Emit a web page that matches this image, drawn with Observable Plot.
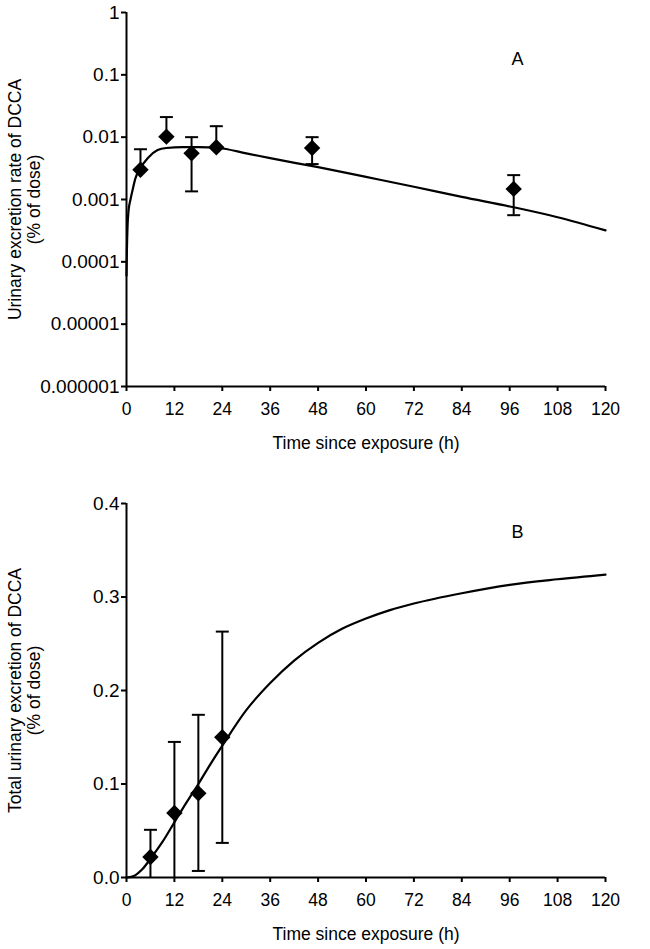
<!DOCTYPE html>
<html>
<head>
<meta charset="utf-8">
<script src="https://cdn.jsdelivr.net/npm/d3@7"></script>
<script src="https://cdn.jsdelivr.net/npm/@observablehq/plot@0.6"></script>
<style>
  html, body { margin: 0; padding: 0; background: #fff; }
  #chart { width: 650px; }
  #chart svg { display: block; }
</style>
</head>
<body>
<div id="chart"></div>
<script>
// ---------- data ----------
const xTicks = [0, 12, 24, 36, 48, 60, 72, 84, 96, 108, 120];
const xTickLabels = ["0", "12", "24", "36", "48", "60", "72", "84", "96", "108", "120"];
const xTitle = "Time since exposure (h)";

// Panel A (log scale)
const yTicksA = [1, 0.1, 0.01, 0.001, 0.0001, 0.00001, 0.000001];
const yTickLabelsA = ["1", "0.1", "0.01", "0.001", "0.0001", "0.00001", "0.000001"];
const yTitleA = "Urinary excretion rate of DCCA\n(% of dose)";
const panelA = "A";

const rateTime = [3.5, 10, 16.3, 22.5, 46.5, 97];
const rateMean = [0.0030, 0.0102, 0.0055, 0.0069, 0.0067, 0.00148];
const rateHigh = [0.0064, 0.021, 0.010, 0.015, 0.010, 0.00246];
const rateLow  = [null, null, 0.00135, null, 0.0037, 0.00056];

const rateFitTime  = [0, 0.1, 0.25, 0.5, 1, 1.5, 2.25, 3.5, 5.3, 7.8, 10, 14, 18, 23, 30, 36, 48, 60, 72, 84, 97, 108, 120];
const rateFitValue = [0.00006, 0.00015, 0.00035, 0.00065, 0.001, 0.0014, 0.0022, 0.0032, 0.0046, 0.0062, 0.0067, 0.0069, 0.0069, 0.0067, 0.0055, 0.0046, 0.0033, 0.0023, 0.0016, 0.0011, 0.00075, 0.00052, 0.00032];

// Panel B (linear scale)
const yTicksB = [0, 0.1, 0.2, 0.3, 0.4];
const yTickLabelsB = ["0.0", "0.1", "0.2", "0.3", "0.4"];
const yTitleB = "Total urinary excretion of DCCA\n(% of dose)";
const panelB = "B";

const totalTime = [6, 12, 18, 24];
const totalMean = [0.022, 0.069, 0.090, 0.150];
const totalHigh = [0.051, 0.145, 0.174, 0.263];
const totalLow  = [-0.007, -0.007, 0.007, 0.037];

const totalFitTime  = [0, 2, 4, 6, 9, 12, 15, 18, 21, 24, 30, 36, 42, 48, 54, 60, 66, 72, 84, 96, 108, 120];
const totalFitValue = [0, 0.002, 0.009, 0.02, 0.038, 0.059, 0.08, 0.10, 0.121, 0.141, 0.179, 0.208, 0.232, 0.251, 0.266, 0.277, 0.286, 0.293, 0.304, 0.313, 0.319, 0.324];

// ---------- build tables ----------
const rateRows = rateTime.map((t, i) => ({t, mean: rateMean[i], hi: rateHigh[i], lo: rateLow[i]}));
const rateFit = rateFitTime.map((t, i) => ({t, v: rateFitValue[i]}));
const totalRows = totalTime.map((t, i) => ({t, mean: totalMean[i], hi: totalHigh[i], lo: totalLow[i]}));
const totalFit = totalFitTime.map((t, i) => ({t, v: totalFitValue[i]}));

// ---------- styling ----------
const font = "'Liberation Sans', Arial, Helvetica, sans-serif";
const capSymbol = {draw(ctx, size) { const r = Math.sqrt(size / Math.PI); ctx.moveTo(-r, 0); ctx.lineTo(r, 0); }};
const diamond = {draw(ctx, size) { const r = Math.sqrt(size / Math.PI); ctx.moveTo(0, -r); ctx.lineTo(r, 0); ctx.lineTo(0, r); ctx.lineTo(-r, 0); ctx.closePath(); }};

function errorMarks(rows, clip) {
  const withLo = rows.filter(d => d.lo != null);
  return [
    Plot.ruleX(rows, {x: "t", y1: "mean", y2: "hi", stroke: "#000", strokeWidth: 2}),
    Plot.ruleX(withLo, {x: "t", y1: "lo", y2: "mean", stroke: "#000", strokeWidth: 2, clip}),
    Plot.dot(rows, {x: "t", y: "hi", symbol: capSymbol, r: 6.5, stroke: "#000", fill: "none", strokeWidth: 2}),
    Plot.dot(withLo, {x: "t", y: "lo", symbol: capSymbol, r: 6.5, stroke: "#000", fill: "none", strokeWidth: 2, clip}),
    Plot.dot(rows, {x: "t", y: "mean", symbol: diamond, r: 8.2, fill: "#000", stroke: "none"})
  ];
}

function commonMarks(yTicks, yLabels, yTitle, yMin, panel, panelDy) {
  return [
    Plot.axisX({ticks: xTicks, tickFormat: d => xTickLabels[xTicks.indexOf(d)], tickSize: 5, tickPadding: 11, strokeWidth: 2, label: null, fontSize: 17.5}),
    Plot.axisY({ticks: yTicks, tickFormat: d => yLabels[yTicks.indexOf(d)], tickSize: 5, tickPadding: 2, strokeWidth: 2, label: null, fontSize: 19}),
    Plot.ruleX([0], {stroke: "#000", strokeWidth: 2}),
    Plot.ruleY([yMin], {stroke: "#000", strokeWidth: 2}),
    Plot.text([xTitle], {text: d => d, frameAnchor: "bottom", dy: 57, lineAnchor: "middle", fontSize: 17.5}),
    Plot.text([yTitle], {text: d => d, frameAnchor: "left", rotate: -90, dx: -102, lineAnchor: "middle", textAnchor: "middle", lineHeight: 1.08, fontSize: 17.5}),
    Plot.text([panel], {text: d => d, frameAnchor: "top-left", dx: 391, dy: panelDy, textAnchor: "middle", lineAnchor: "middle", fontSize: 18})
  ];
}

const plotA = Plot.plot({
  width: 650, height: 465,
  marginTop: 12, marginBottom: 79, marginLeft: 126, marginRight: 45,
  style: {fontFamily: font, fontSize: "17px", color: "#000", background: "#fff"},
  x: {domain: [0, 120]},
  y: {type: "log", domain: [0.000001, 1]},
  marks: [
    ...commonMarks(yTicksA, yTickLabelsA, yTitleA, 0.000001, panelA, 47),
    Plot.line(rateFit, {x: "t", y: "v", stroke: "#000", strokeWidth: 2.2, curve: "monotone-x"}),
    ...errorMarks(rateRows, false)
  ]
});

const plotB = Plot.plot({
  width: 650, height: 484,
  marginTop: 38, marginBottom: 72, marginLeft: 126, marginRight: 45,
  style: {fontFamily: font, fontSize: "17px", color: "#000", background: "#fff"},
  x: {domain: [0, 120]},
  y: {domain: [0, 0.4]},
  marks: [
    ...commonMarks(yTicksB, yTickLabelsB, yTitleB, 0, panelB, 29),
    Plot.line(totalFit, {x: "t", y: "v", stroke: "#000", strokeWidth: 2.2, curve: "monotone-x"}),
    ...errorMarks(totalRows, true)
  ]
});

document.getElementById("chart").append(plotA, plotB);
</script>
</body>
</html>
